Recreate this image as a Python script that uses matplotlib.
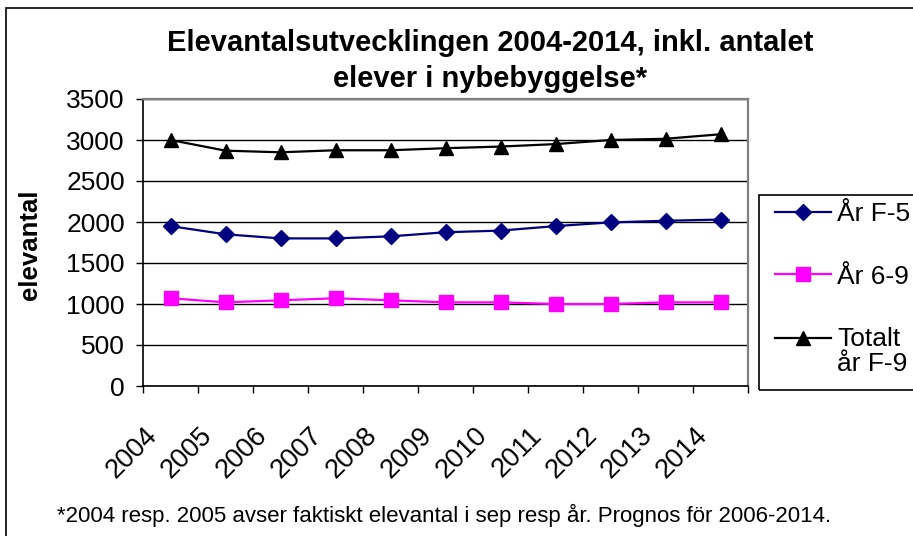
import matplotlib
matplotlib.use("Agg")
import matplotlib.pyplot as plt
from matplotlib.patches import Rectangle
from matplotlib.legend_handler import HandlerLine2D
from matplotlib.transforms import ScaledTranslation
import numpy as np

years = ["2004", "2005", "2006", "2007", "2008", "2009", "2010", "2011", "2012", "2013", "2014"]
ar_f5 = [1950, 1850, 1800, 1800, 1825, 1875, 1895, 1950, 1995, 2015, 2030]
ar_69 = [1070, 1020, 1045, 1070, 1045, 1020, 1020, 1000, 1000, 1020, 1020]
totalt = [3000, 2870, 2850, 2875, 2875, 2900, 2920, 2950, 3000, 3015, 3070]
series_labels = ["År F-5", "År 6-9", "Totalt\når F-9"]
title_text = "Elevantalsutvecklingen 2004-2014, inkl. antalet\nelever i nybebyggelse*"
ylabel_text = "elevantal"
footnote = "*2004 resp. 2005 avser faktiskt elevantal i sep resp år. Prognos för 2006-2014."
yticks = [0, 500, 1000, 1500, 2000, 2500, 3000, 3500]

plt.rcParams['font.family'] = ['Liberation Sans', 'DejaVu Sans']

W, H = 913, 536
fig = plt.figure(figsize=(W / 100, H / 100), dpi=100)


def fx(px):
    return px / W


def fy(py):
    return 1 - py / H


ax = fig.add_axes([fx(143), fy(386), fx(748) - fx(143), fy(99) - fy(386)])

x = np.arange(len(years))
l1, = ax.plot(x, ar_f5, color="#000080", lw=1.6, marker="D", ms=8.5, mfc="#000080", mec="#000080")
l2, = ax.plot(x, ar_69, color="#FF00FF", lw=1.6, marker="s", ms=10, mfc="#FF00FF", mec="#FF00FF")
l3, = ax.plot(x, totalt, color="black", lw=1.6, marker="^", ms=10.5, mfc="black", mec="black")

ax.set_xlim(-0.5, len(years) - 0.5)
ax.set_ylim(0, 3500)
ax.set_yticks(yticks)
ax.set_yticklabels([str(v) for v in yticks], fontsize=19)
ax.yaxis.grid(True, color="black", lw=1.0)
ax.set_axisbelow(True)
ax.tick_params(axis="y", direction="out", length=5, width=1.0, pad=8)

ax.set_xticks(x)
ax.set_xticklabels(years, fontsize=19.5, rotation=45, ha="right", va="top")
ax.set_xticks(np.arange(-0.5, len(years)), minor=True)
ax.tick_params(axis="x", which="major", length=0, pad=26)
ax.tick_params(axis="x", which="minor", direction="out", length=5, width=1.0)
for lab in ax.get_xticklabels():
    lab.set_transform(lab.get_transform() + ScaledTranslation(-8 / 100, 0, fig.dpi_scale_trans))

for s in ["top", "right"]:
    ax.spines[s].set_color("#808080")
    ax.spines[s].set_linewidth(1.6)
for s in ["left", "bottom"]:
    ax.spines[s].set_color("black")
    ax.spines[s].set_linewidth(1.2)

fig.text(fx(30), fy(245), ylabel_text, rotation=90, fontsize=18.5, fontweight="bold",
         ha="center", va="center")

fig.text(fx(490), fy(61), title_text, fontsize=21, fontweight="bold",
         ha="center", va="center", linespacing=1.4)

fig.text(fx(57), fy(515), footnote, fontsize=16, ha="left", va="center")

# outer chart border
fig.patches.append(Rectangle((fx(6), -0.1), 1.2, fy(8) + 0.1, transform=fig.transFigure,
                             fill=False, edgecolor="black", lw=1.2))
# legend frame
fig.patches.append(Rectangle((fx(759), fy(390)), fx(960) - fx(759), fy(195) - fy(390),
                             transform=fig.transFigure, fill=False, edgecolor="black", lw=1.2))


class ShiftedHandler(HandlerLine2D):
    def __init__(self, shift, **kw):
        super().__init__(**kw)
        self.shift = shift

    def create_artists(self, legend, orig_handle, xdescent, ydescent, width, height,
                       fontsize, trans):
        arts = super().create_artists(legend, orig_handle, xdescent, ydescent, width,
                                      height, fontsize, trans)
        for a in arts:
            a.set_ydata(np.asarray(a.get_ydata(), dtype=float) + self.shift)
        return arts


leg = fig.legend([l1, l2, l3], series_labels, loc="upper left",
                 bbox_to_anchor=(fx(770), fy(197)), bbox_transform=fig.transFigure,
                 frameon=False, fontsize=19, handlelength=2.1, handletextpad=0.25,
                 labelspacing=1.45, borderpad=0.2, borderaxespad=0,
                 handler_map={l3: ShiftedHandler(10)})
for t in leg.get_texts():
    t.set_multialignment("left")
    t.set_linespacing(1.05)

fig.savefig("out.png", dpi=100)
